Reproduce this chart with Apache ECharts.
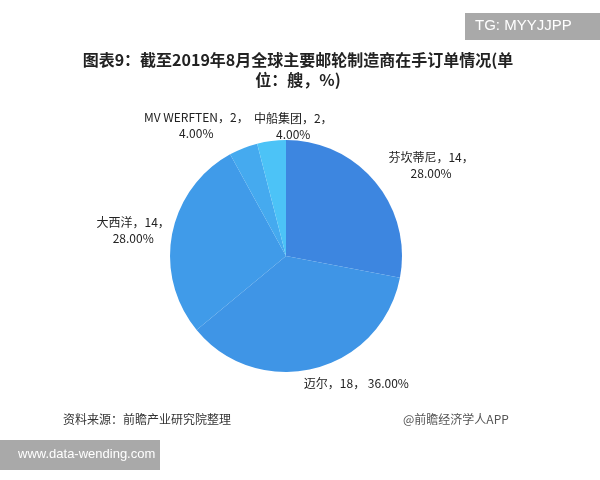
<!DOCTYPE html>
<html><head><meta charset="utf-8">
<script src="https://cdn.jsdelivr.net/npm/echarts@6/dist/echarts.min.js"></script>
<style>html,body{margin:0;padding:0;background:#fff}#c{width:600px;height:480px}</style>
</head><body><div id="c"></div>
<script>
const categories = ['芬坎蒂尼', '迈尔', '大西洋', 'MV WERFTEN', '中船集团'];
const values = [14, 18, 14, 2, 2];
const colors = ['#3d86e0', '#3f95e6', '#409be9', '#45aaef', '#4cc3f7'];
const titleText = '图表9：截至2019年8月全球主要邮轮制造商在手订单情况(单\n位：艘，%)';

const chart = echarts.init(document.getElementById('c'));
const total = values.reduce((a, b) => a + b, 0);
const labelShift = [[33, -10], [24, 5], [-19, -2], [8, -40], [38, -5]];
chart.setOption({
  animation: false,
  backgroundColor: '#fff',
  graphic: [
    { type: 'text', x: 298, y: 50, style: { text: titleText, textAlign: 'center', fontSize: 16, fontWeight: 'bold', fill: '#222', lineHeight: 20, fontFamily: '"Noto Sans CJK SC", sans-serif' } },
    { type: 'text', left: 63, top: 413, style: { text: '资料来源：前瞻产业研究院整理', fontSize: 12, fill: '#333', fontFamily: '"Noto Sans CJK SC", sans-serif' } },
    { type: 'text', left: 403, top: 413, style: { text: '@前瞻经济学人APP', fontSize: 12, fill: '#555', fontFamily: '"Noto Sans CJK SC", sans-serif' } },
    { type: 'rect', shape: { x: 465, y: 13, width: 135, height: 27 }, style: { fill: '#a9a9a9' } },
    { type: 'text', left: 475, top: 18, style: { text: 'TG: MYYJJPP', fontSize: 15, fill: '#fff', fontFamily: '"Liberation Sans", sans-serif' } },
    { type: 'rect', shape: { x: 0, y: 440, width: 160, height: 30 }, style: { fill: '#a9a9a9' } },
    { type: 'text', left: 18, top: 448, style: { text: 'www.data-wending.com', fontSize: 13, fill: '#fff', fontFamily: '"Liberation Sans", sans-serif' } }
  ],
  series: [{
    type: 'pie',
    center: [286, 256],
    radius: 116,
    startAngle: 90,
    clockwise: true,
    data: categories.map((n, i) => ({ name: n, value: values[i], itemStyle: { color: colors[i] } })),
    label: {
      show: true,
      position: 'outside',
      fontSize: 12,
      lineHeight: 16,
      color: '#222',
      align: 'center',
      fontFamily: '"Noto Sans CJK SC", sans-serif',
      formatter: p => p.name + '，' + p.value + '，' + (p.name === '迈尔' ? ' ' : '\n') + (p.value / total * 100).toFixed(2) + '%'
    },
    labelLine: { show: false, length: 10, length2: 10 },
    labelLayout: p => ({ dx: labelShift[p.dataIndex][0], dy: labelShift[p.dataIndex][1], align: 'center', hideOverlap: false }),
    emphasis: { disabled: true }
  }]
});
</script></body></html>
